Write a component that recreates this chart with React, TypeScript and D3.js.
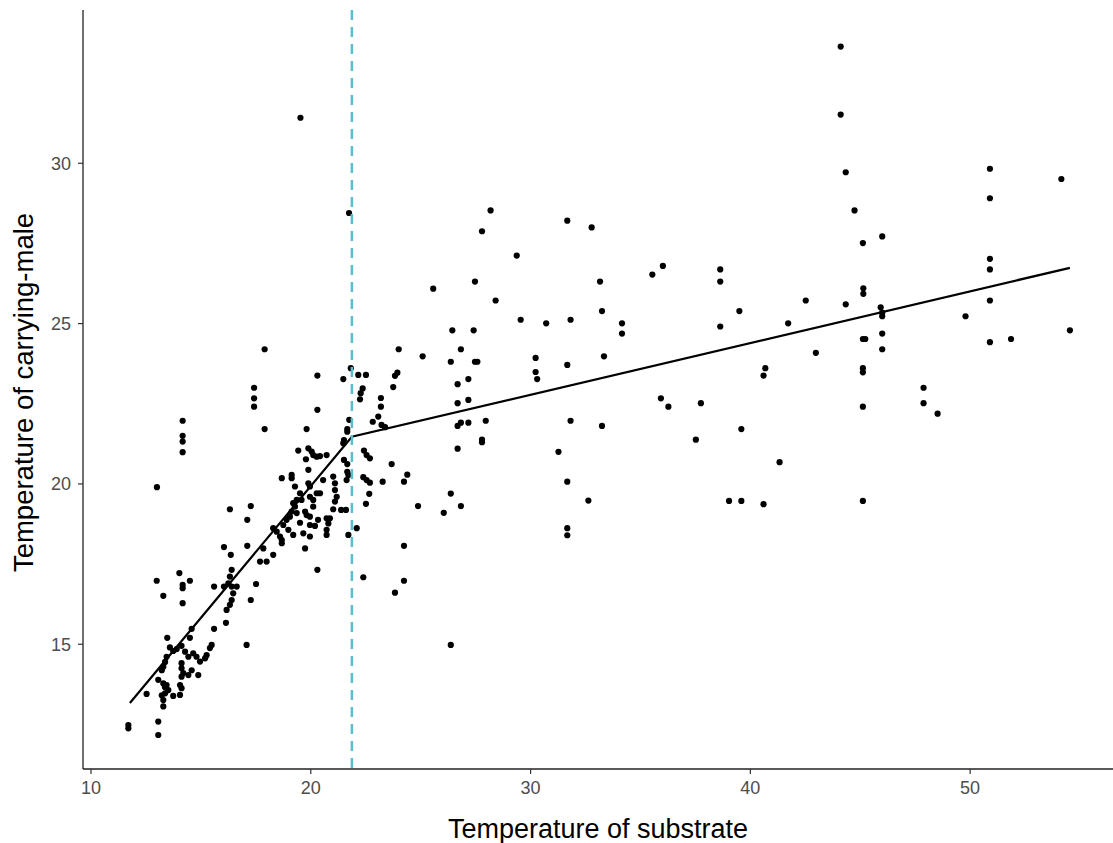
import React from "react";
import * as d3 from "d3";

const substrateTemp: number[] = [
  44.11, 44.11, 44.34, 44.74, 45.12, 46.0, 50.9, 50.9, 54.15, 35.54, 36.02, 38.63, 38.63, 50.9, 50.9, 50.9,
  45.14, 45.14, 42.52, 44.34, 39.5, 41.72, 38.63, 45.93, 46.0, 46.0, 49.79, 34.16, 34.16, 46.0, 45.12, 45.23,
  50.9, 51.86, 54.54, 46.0, 42.98, 40.68, 40.6, 45.12, 45.12, 35.93, 36.27, 37.75, 47.88, 47.88, 48.52, 45.12,
  37.52, 39.59, 41.33, 39.03, 39.59, 40.6, 45.12,
  28.18, 27.79, 31.67, 32.78, 29.37, 27.47, 25.57, 33.16, 28.41, 33.25, 29.55, 30.71, 31.82, 26.44, 27.41,
  26.83, 25.09, 26.37, 27.47, 27.58, 30.23, 30.23, 30.3, 31.67, 33.34, 26.68, 27.17, 27.17, 26.68, 26.68,
  26.83, 27.17, 27.96, 27.79, 27.79, 26.68, 31.82, 33.25, 31.27, 31.67, 32.63, 31.67, 31.67, 24.39, 24.24,
  24.88, 26.37, 26.05, 26.83, 24.24, 24.24, 26.37,
  24.0, 21.48, 21.82, 22.16, 22.51, 23.94, 23.83, 23.75, 22.36, 22.27, 22.24, 23.19, 23.19, 23.07, 22.82,
  23.22, 23.38, 21.75, 21.66, 21.66, 21.51, 21.48, 22.42, 22.54, 22.69, 21.51, 21.66, 21.66, 21.71, 21.63,
  23.68, 23.27, 22.39, 22.54, 22.69, 22.66, 22.51, 21.38, 21.6, 22.09, 21.71, 22.39, 23.83,
  17.9, 20.3, 20.3, 17.9, 19.81, 20.3,
  19.43, 19.89, 20.04, 20.11, 20.27, 20.42, 19.78, 20.72, 21.02, 21.1, 21.1, 21.18, 21.1, 21.02, 20.56,
  19.89, 19.89, 19.96, 18.68, 19.13, 19.13, 19.28, 20.27, 20.42, 19.96, 20.11, 20.11, 19.51, 19.58, 19.36,
  19.2, 19.28, 19.36, 19.13, 19.05, 18.9, 18.75, 19.74, 19.81, 19.96, 19.51, 19.96, 20.19, 20.72, 20.87,
  20.8, 20.72, 20.72, 19.66, 19.2, 18.98, 19.96, 19.74, 20.33,
  16.32, 17.27, 17.11, 18.29, 18.45, 18.6, 18.68, 18.68, 17.84, 18.29, 17.69, 17.99, 16.05, 16.36, 17.11,
  16.4, 16.32, 16.25, 16.4, 16.47, 16.4, 16.32, 16.17, 15.6, 16.05, 16.63, 17.51, 17.27,
  17.42, 17.42, 17.42, 14.17, 14.17, 14.17, 14.17, 14.02, 14.17, 14.17, 14.5,
  12.99, 13.29, 14.17, 15.6, 14.58, 13.47, 13.59, 13.74, 13.9, 14.12, 14.5, 13.44, 13.37, 13.29, 13.22,
  14.28, 14.43, 14.65, 14.8, 14.96, 15.26, 15.41, 15.49, 15.19, 14.12, 14.12, 14.2, 14.12, 14.43, 14.58,
  14.88, 13.06, 13.29, 13.44, 13.52, 13.37, 13.22, 13.29, 13.37, 12.53, 14.05, 14.12, 14.05, 13.74, 13.29,
  13.06, 13.06, 11.7, 11.7,
  16.14, 17.08, 19.53, 21.74, 13.0,
];

const carryingMaleTemp: number[] = [
  33.64, 31.52, 29.72, 28.53, 27.51, 27.72, 29.83, 28.91, 29.51, 26.53, 26.8, 26.69, 26.31, 27.02, 26.69, 25.72,
  26.1, 25.93, 25.72, 25.6, 25.39, 25.01, 24.91, 25.51, 25.34, 25.23, 25.23, 25.01, 24.69, 24.69, 24.52, 24.52,
  24.42, 24.52, 24.79, 24.2, 24.09, 23.61, 23.38, 23.61, 23.48, 22.67, 22.41, 22.52, 23.0, 22.52, 22.19, 22.41,
  21.38, 21.71, 20.68, 19.47, 19.47, 19.37, 19.47,
  28.53, 27.88, 28.21, 28.0, 27.12, 26.31, 26.09, 26.31, 25.72, 25.39, 25.12, 25.01, 25.12, 24.79, 24.79,
  24.2, 23.98, 23.81, 23.81, 23.81, 23.93, 23.49, 23.27, 23.71, 23.98, 23.11, 23.27, 22.62, 22.52, 21.81,
  21.91, 21.91, 21.97, 21.38, 21.3, 21.1, 21.97, 21.81, 21.0, 20.07, 19.48, 18.62, 18.4, 20.29, 20.07,
  19.31, 19.7, 19.1, 19.31, 18.07, 16.98, 14.98,
  24.2, 23.27, 23.61, 23.4, 23.4, 23.47, 23.37, 23.02, 22.98, 22.83, 22.64, 22.68, 22.41, 22.1, 21.94,
  21.84, 21.77, 22.0, 21.71, 21.63, 21.37, 21.27, 21.04, 20.9, 20.8, 20.75, 20.62, 20.38, 20.28, 20.12,
  20.62, 20.07, 20.21, 20.12, 20.04, 19.69, 19.38, 19.19, 19.19, 18.62, 18.41, 17.09, 16.61,
  24.2, 23.38, 22.31, 21.71, 21.71, 17.32,
  21.04, 21.11, 21.01, 20.9, 20.85, 20.87, 20.77, 20.9, 20.23, 20.02, 19.81, 19.6, 19.45, 19.21, 20.12,
  20.44, 20.02, 19.92, 20.18, 20.28, 20.18, 19.92, 19.71, 19.71, 19.6, 19.5, 19.29, 19.71, 19.5, 19.5,
  19.4, 19.29, 19.09, 19.14, 18.98, 18.88, 18.72, 19.14, 19.03, 18.98, 18.79, 18.72, 18.69, 18.93, 18.93,
  18.77, 18.57, 18.41, 18.46, 18.41, 18.57, 18.36, 17.99, 18.88,
  19.21, 19.31, 18.88, 18.62, 18.51, 18.36, 18.25, 18.15, 17.99, 17.79, 17.58, 17.58, 18.03, 17.79, 18.07,
  17.32, 17.11, 16.9, 16.8, 16.59, 16.38, 16.23, 16.07, 16.8, 16.8, 16.8, 16.88, 16.38,
  23.0, 22.67, 22.41, 21.97, 21.5, 21.32, 20.99, 17.22, 16.85, 16.75, 16.98,
  16.98, 16.51, 16.28, 15.48, 15.48, 15.2, 14.9, 14.79, 14.85, 14.95, 15.2, 14.61, 14.45, 14.3, 14.19,
  14.77, 14.61, 14.72, 14.61, 14.46, 14.66, 14.88, 14.98, 14.56, 14.41, 14.25, 14.1, 13.99, 14.04, 14.19,
  14.04, 13.89, 13.78, 13.73, 13.57, 13.47, 13.41, 13.26, 13.66, 13.45, 13.73, 13.63, 13.42, 13.39, 13.06,
  12.59, 12.17, 12.48, 12.38,
  15.67, 14.98, 31.42, 28.45, 19.9,
];

const fitX: number[] = [11.77, 21.87, 54.54];
const fitY: number[] = [13.17, 21.47, 26.74];
const breakpoint = 21.87;

const xTicks: number[] = [10, 20, 30, 40, 50];
const yTicks: number[] = [15, 20, 25, 30];

const W = 1113;
const H = 843;
const left = 83;
const right = 1113;
const top = 10;
const bottom = 769;

export default function App() {
  const x = d3.scaleLinear().domain([9.636, 56.5]).range([left, right]);
  const y = d3.scaleLinear().domain([11.11, 34.78]).range([bottom, top]);
  const n = Math.min(substrateTemp.length, carryingMaleTemp.length);
  const pts = d3.range(n).map((i) => [substrateTemp[i], carryingMaleTemp[i]] as [number, number]);
  const line = d3
    .line<number>()
    .x((_, i) => x(fitX[i]))
    .y((_, i) => y(fitY[i]));
  const font = "'Liberation Sans', Arial, sans-serif";
  return (
    <svg
      width={W}
      height={H}
      style={{ position: "absolute", left: 0, top: 0, background: "#fff" }}
      fontFamily={font}
    >
      <rect x={0} y={0} width={W} height={H} fill="#fff" />
      {pts.map((p, i) => (
        <circle key={i} cx={x(p[0])} cy={y(p[1])} r={3.1} fill="#000" />
      ))}
      <path d={line(fitX) || ""} fill="none" stroke="#000" strokeWidth={2.2} />
      <line
        x1={x(breakpoint)}
        x2={x(breakpoint)}
        y1={top}
        y2={bottom}
        stroke="#5bbccc"
        strokeWidth={2.5}
        strokeDasharray="10,7"
      />
      <line x1={left} x2={left} y1={top} y2={bottom} stroke="#222" strokeWidth={1.3} />
      <line x1={left} x2={right} y1={bottom} y2={bottom} stroke="#222" strokeWidth={1.3} />
      {xTicks.map((t) => (
        <g key={"x" + t}>
          <line x1={x(t)} x2={x(t)} y1={bottom} y2={bottom + 5} stroke="#333" strokeWidth={1.2} />
          <text x={x(t)} y={bottom + 25} textAnchor="middle" fontSize={18} fill="#4d4d4d">
            {t}
          </text>
        </g>
      ))}
      {yTicks.map((t) => (
        <g key={"y" + t}>
          <line x1={left - 5} x2={left} y1={y(t)} y2={y(t)} stroke="#333" strokeWidth={1.2} />
          <text x={left - 12} y={y(t) + 6.5} textAnchor="end" fontSize={18} fill="#4d4d4d">
            {t}
          </text>
        </g>
      ))}
      <text x={(left + right) / 2} y={838} textAnchor="middle" fontSize={27} fill="#000">
        Temperature of substrate
      </text>
      <text
        transform={`translate(33, ${(top + bottom) / 2 + 3}) rotate(-90)`}
        textAnchor="middle"
        fontSize={27.5}
        fill="#000"
      >
        Temperature of carrying-male
      </text>
    </svg>
  );
}
